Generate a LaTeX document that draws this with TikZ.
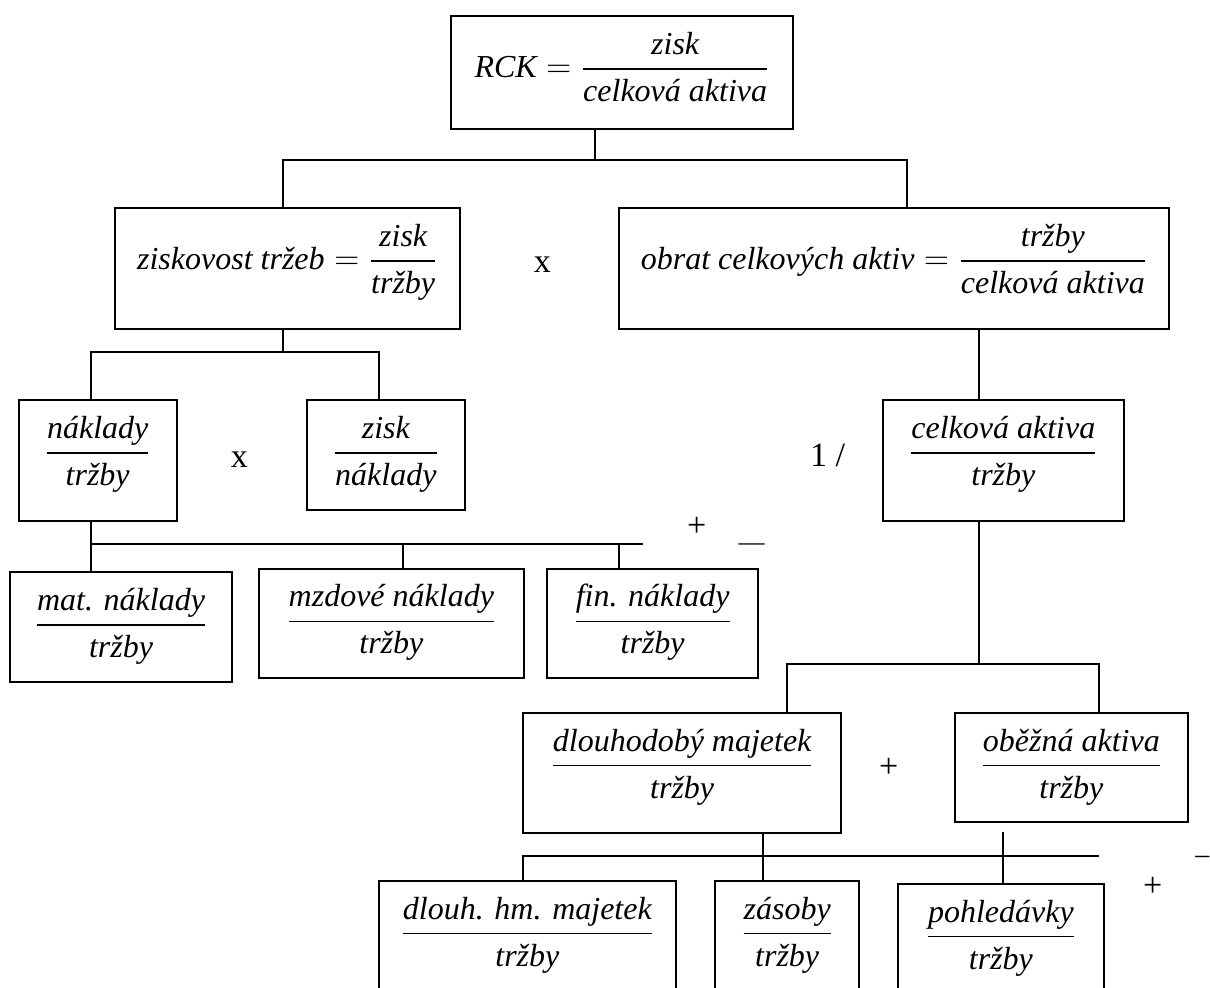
\documentclass[tikz,border=0pt]{standalone}
\usepackage{amsmath}
\usepackage{fontspec}
\setmainfont{Liberation Serif}
\newcommand\podil[2]{\dfrac{\textit{#1}}{\textit{#2}}}
\tikzset{
  ratio/.style={draw, line width=1pt, inner sep=0pt, anchor=north,
    text height=30.7pt, font=\fontsize{16}{19}\selectfont},
  tall/.style={text depth=29.5pt},
  short/.style={text depth=24pt},
  op/.style={inner sep=0pt, font=\fontsize{17}{20}\selectfont},
  conn/.style={line width=1pt}
}

\begin{document}
\begin{tikzpicture}[x=0.5pt,y=-0.5pt]
  \useasboundingbox (0,0) rectangle (1210,988);
  \clip (0,0) rectangle (1210,988);
  % boxes
  \node[ratio, text depth=25.5pt, minimum width=171.3pt] (rck) at (622,15.3)
    {$\textit{RCK} = \podil{zisk}{celková aktiva}$};
  \node[ratio, tall, minimum width=172.65pt] (zisk) at (287.35,207.3)
    {$\textit{ziskovost tržeb} = \podil{zisk}{tržby}$};
  \node[ratio, tall, minimum width=275.3pt] (obrat) at (894,207.3)
    {$\textit{obrat celkových aktiv} = \podil{tržby}{celková aktiva}$};
  \node[ratio, tall, minimum width=79pt] (nakl) at (97.7,399.3) {$\podil{náklady}{tržby}$};
  \node[ratio, short, minimum width=79.15pt] (zn) at (385.85,399.3) {$\podil{zisk}{náklady}$};
  \node[ratio, tall, minimum width=120.35pt] (ca) at (1003.35,399.3) {$\podil{celková aktiva}{tržby}$};
  \node[ratio, short, minimum width=111.3pt] (mat) at (121,571.3) {$\podil{mat. náklady}{tržby}$};
  \node[ratio, short, minimum width=132.65pt] (mzd) at (391.35,567.7) {$\podil{mzdové náklady}{tržby}$};
  \node[ratio, short, minimum width=105.65pt] (fin) at (652.65,567.7) {$\podil{fin. náklady}{tržby}$};
  \node[ratio, tall, minimum width=159.15pt] (dm) at (682.15,712) {$\podil{dlouhodobý majetek}{tržby}$};
  \node[ratio, short, minimum width=116.65pt] (oa) at (1071.35,712) {$\podil{oběžná aktiva}{tržby}$};
  \node[ratio, text depth=36pt, minimum width=148.35pt] (dhm) at (527.35,880) {$\podil{dlouh. hm. majetek}{tržby}$};
  \node[ratio, text depth=36pt, minimum width=72.15pt] (zas) at (787.15,880) {$\podil{zásoby}{tržby}$};
  \node[ratio, text depth=36pt, minimum width=102.85pt] (poh) at (1000.85,883) {$\podil{pohledávky}{tržby}$};
  % operators
  \node[op] (krat1) at (542.3,265) {x};
  \node[op] (krat2) at (239.3,460) {x};
  \node[op] (inv) at (827.7,455) {1 /};
  \node[op] (plus1) at (696.7,527.3) {+};
  \node[op] (plus2) at (888.7,768.3) {+};
  \node[op] (plus3) at (1152.7,887.3) {+};
  \node[op, anchor=base west, font=\fontsize{13}{15}\selectfont] (minus1) at (738.3,551) {—};
  \node[op, anchor=base west, font=\fontsize{14}{16}\selectfont] (minus2) at (1195,863) {–};
  % level 1
  \coordinate (a0) at (595,160);
  \coordinate (a1) at (283,160);
  \coordinate (a2) at (907,160);
  \draw[conn] (a0 |- rck.south) -- (a0);
  \draw[conn] (a1 |- zisk.north) -- (a1) -- (a2) -- (a2 |- obrat.north);
  % level 2
  \coordinate (b0) at (283,352);
  \coordinate (b1) at (91,352);
  \coordinate (b2) at (379,352);
  \draw[conn] (b0 |- zisk.south) -- (b0);
  \draw[conn] (b1 |- nakl.north) -- (b1) -- (b2) -- (b2 |- zn.north);
  \coordinate (c0) at (979,360);
  \draw[conn] (c0 |- obrat.south) -- (c0 |- ca.north);
  % level 3
  \coordinate (d0) at (91,544);
  \coordinate (d1) at (403,544);
  \coordinate (d2) at (619,544);
  \coordinate (d3) at (643.3,544);
  \draw[conn] (d0 |- nakl.south) -- (d0 |- mat.north);
  \draw[conn] (d0) -- (d3);
  \draw[conn] (d1) -- (d1 |- mzd.north);
  \draw[conn] (d2) -- (d2 |- fin.north);
  \coordinate (e0) at (979,664);
  \coordinate (e1) at (787.3,664);
  \coordinate (e2) at (1099.3,664);
  \draw[conn] (e0 |- ca.south) -- (e0);
  \draw[conn] (e1 |- dm.north) -- (e1) -- (e2) -- (e2 |- oa.north);
  % level 4
  \coordinate (f0) at (523,855.7);
  \coordinate (f1) at (763.3,855.7);
  \coordinate (f2) at (1099.3,855.7);
  \coordinate (f3) at (1003.3,831.7);
  \draw[conn] (f1 |- dm.south) -- (f1 |- zas.north);
  \draw[conn] (f0 |- dhm.north) -- (f0) -- (f2);
  \draw[conn] (f3) -- (f3 |- poh.north);
\end{tikzpicture}
\end{document}
